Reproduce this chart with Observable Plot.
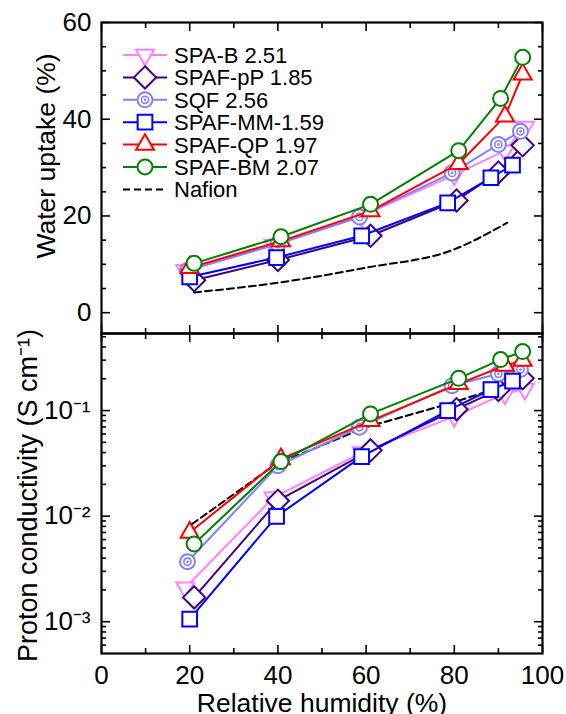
<!DOCTYPE html>
<html><head><meta charset="utf-8">
<script src="https://cdn.jsdelivr.net/npm/d3@7"></script>
<script src="https://cdn.jsdelivr.net/npm/@observablehq/plot@0.6"></script>
<style>
body{margin:0;background:#fff;}
#fig{position:relative;width:566px;height:714px;overflow:hidden;background:#fff;font-family:"Liberation Sans",Arial,sans-serif;}
#top,#bottom,#legend{position:absolute;left:0;}
#top{top:0;}
#bottom{top:333px;}
#legend{top:0;pointer-events:none;}
svg{overflow:visible;}
</style></head>
<body><div id="fig"><div id="bottom"></div><div id="top"></div><div id="legend"></div></div>
<script>
// ---------- data ----------
const seriesNames   = ["SPA-B 2.51", "SPAF-pP 1.85", "SQF 2.56", "SPAF-MM-1.59", "SPAF-QP 1.97", "SPAF-BM 2.07"];
const seriesColors  = ["#ff80ff", "#400080", "#8080ff", "#0000ff", "#ff0000", "#008000"];
const seriesSymbols = ["triangle-down", "diamond", "bullseye", "square", "triangle", "circle"];

// relative humidity (%)
const rhSPAB = [19, 39, 59, 80, 91.5, 96];
const rhPP   = [21, 40, 61, 80.5, 90, 95.5];
const rhSQF  = [19.5, 40, 58.5, 79.5, 90, 95];
const rhMM   = [20, 39.7, 59, 78.5, 88.3, 93.2];
const rhQP   = [20, 40.7, 61, 81, 91.5, 95.5];
const rhBM   = [21, 40.7, 61, 81, 90.5, 95.5];

// water uptake (%)
const wuSPAB = [8.8, 14.0, 20.0, 28.5, 33.5, 38.4];
const wuPP   = [6.7, 10.9, 15.9, 23.2, 29.0, 34.6];
const wuSQF  = [8.7, 14.2, 19.8, 28.9, 34.8, 37.5];
const wuMM   = [7.4, 11.4, 15.9, 22.7, 27.9, 30.5];
const wuQP   = [9.3, 14.8, 21.0, 30.8, 40.6, 49.3];
const wuBM   = [10.2, 15.7, 22.4, 33.5, 44.3, 52.8];

// proton conductivity (S/cm)
const pcSPAB = [0.0021, 0.015, 0.040, 0.088, 0.145, 0.16];
const pcPP   = [0.0017, 0.014, 0.042, 0.103, 0.157, 0.202];
const pcSQF  = [0.0037, 0.030, 0.0695, 0.172, 0.223, 0.245];
const pcMM   = [0.00106, 0.00996, 0.0366, 0.100, 0.158, 0.190];
const pcQP   = [0.0070, 0.0348, 0.080, 0.179, 0.267, 0.298];
const pcBM   = [0.00545, 0.0329, 0.093, 0.202, 0.304, 0.362];

// Nafion reference (dashed)
const nafionName = "Nafion";
const rhNafionWU = [21, 40, 60, 80, 92];
const wuNafion   = [4.2, 6.2, 9.3, 13.1, 18.6];
const rhNafionPC = [20.5, 39.5, 60, 80, 91.3];
const pcNafion   = [0.0084, 0.031, 0.0695, 0.120, 0.172];

// ticks & labels
const xTicksMajor  = [0, 20, 40, 60, 80, 100];
const xTicksMinor  = [10, 30, 50, 70, 90];
const wuTicksMajor = [0, 20, 40, 60];
const wuTicksMinor = [5, 10, 15, 25, 30, 35, 45, 50, 55];
const pcTicksMajor = [1e-3, 1e-2, 1e-1];
const pcTickLabels = ["10\u207B\u00B3", "10\u207B\u00B2", "10\u207B\u00B9"];
const pcTicksMinor = [6e-4, 7e-4, 8e-4, 9e-4, 2e-3, 3e-3, 4e-3, 5e-3, 6e-3, 7e-3, 8e-3, 9e-3,
                      2e-2, 3e-2, 4e-2, 5e-2, 6e-2, 7e-2, 8e-2, 9e-2, 2e-1, 3e-1, 4e-1, 5e-1];
const xLabel  = "Relative humidity (%)";
const wuLabel = "Water uptake (%)";
const pcLabel = "Proton conductivity (S cm\u207B\u00B9)";

// ---------- build tables ----------
const rhs = [rhSPAB, rhPP, rhSQF, rhMM, rhQP, rhBM];
const wus = [wuSPAB, wuPP, wuSQF, wuMM, wuQP, wuBM];
const pcs = [pcSPAB, pcPP, pcSQF, pcMM, pcQP, pcBM];
const series = seriesNames.map((name, i) => ({
  name, color: seriesColors[i], symbol: seriesSymbols[i],
  rows: rhs[i].map((x, j) => ({x, wu: wus[i][j], pc: pcs[i][j]}))
}));
const nafionWU = rhNafionWU.map((x, j) => ({x, y: wuNafion[j]}));
const nafionPC = rhNafionPC.map((x, j) => ({x, y: pcNafion[j]}));

const FONT = "Liberation Sans, Arial, Helvetica, sans-serif";
const SIZES = {triangle: 6.7, diamond: 10, square: 8.3, circle: 7.5};
const TICK_FONT = 26, TITLE_FONT = 26.5;

function markerMarks(rows, yKey, s) {
  const c = {x: "x", y: yKey, stroke: s.color, strokeWidth: 2, fill: "white"};
  switch (s.symbol) {
    case "triangle-down": return [Plot.dot(rows, {...c, symbol: "triangle", r: SIZES.triangle, rotate: 180})];
    case "diamond": return [Plot.dot(rows, {...c, symbol: "diamond2", r: SIZES.diamond})];
    case "bullseye": return [
      Plot.dot(rows, {...c, symbol: "circle", r: SIZES.circle}),
      Plot.dot(rows, {...c, symbol: "circle", r: 3.6, strokeWidth: 1.6}),
      Plot.dot(rows, {x: "x", y: yKey, fill: s.color, r: 1.3})
    ];
    case "square": return [Plot.dot(rows, {...c, symbol: "square", r: SIZES.square})];
    case "triangle": return [Plot.dot(rows, {...c, symbol: "triangle", r: SIZES.triangle})];
    default: return [Plot.dot(rows, {...c, symbol: "circle", r: SIZES.circle})];
  }
}

function tickMarks(xMaj, xMin, yMaj, yMin) {
  const blank = () => "";
  const m = [];
  for (const a of ["bottom", "top"]) {
    m.push(Plot.axisX(xMaj, {anchor: a, tickSize: -8, tickFormat: blank, label: null, strokeWidth: 1.6}));
    m.push(Plot.axisX(xMin, {anchor: a, tickSize: -5, tickFormat: blank, label: null, strokeWidth: 1.6}));
  }
  for (const a of ["left", "right"]) {
    m.push(Plot.axisY(yMaj, {anchor: a, tickSize: -9, tickFormat: blank, label: null, strokeWidth: 1.6}));
    m.push(Plot.axisY(yMin, {anchor: a, tickSize: -5, tickFormat: blank, label: null, strokeWidth: 1.6}));
  }
  return m;
}

// ---------- top panel: water uptake ----------
const topMarks = [
  ...tickMarks(xTicksMajor, xTicksMinor, wuTicksMajor, wuTicksMinor),
  Plot.axisY(wuTicksMajor, {anchor: "left", tickSize: 0, tickPadding: 10, fontSize: TICK_FONT, label: null}),
  Plot.text([wuLabel], {text: d => d, frameAnchor: "left", rotate: -90, dx: -65, dy: -22, textAnchor: "middle", lineAnchor: "top", fontSize: TITLE_FONT}),
  Plot.line(nafionWU, {x: "x", y: "y", stroke: "black", strokeWidth: 2, strokeDasharray: "7,4", curve: "monotone-x"})
];
for (const s of series) {
  topMarks.push(Plot.line(s.rows, {x: "x", y: "wu", stroke: s.color, strokeWidth: 2}));
  topMarks.push(...markerMarks(s.rows, "wu", s));
}
topMarks.push(Plot.frame({stroke: "black", strokeWidth: 2.2}));

const topPlot = Plot.plot({
  width: 566, height: 335,
  marginTop: 22, marginBottom: 2, marginLeft: 101, marginRight: 24,
  style: {fontFamily: FONT, color: "#000", background: "transparent", overflow: "visible"},
  x: {domain: [0, 100]},
  y: {domain: [-4.3, 60]},
  marks: topMarks
});
document.getElementById("top").appendChild(topPlot);

// ---------- bottom panel: proton conductivity ----------
const pcFmt = d => pcTickLabels[pcTicksMajor.findIndex(v => Math.abs(Math.log10(v) - Math.log10(d)) < 1e-6)];
const botMarks = [
  ...tickMarks(xTicksMajor, xTicksMinor, pcTicksMajor, pcTicksMinor),
  Plot.axisX(xTicksMajor, {anchor: "bottom", tickSize: 0, tickPadding: 12, fontSize: TICK_FONT, label: null}),
  Plot.axisY(pcTicksMajor, {anchor: "left", tickSize: 0, tickPadding: 11, fontSize: TICK_FONT, label: null, tickFormat: pcFmt}),
  Plot.text([pcLabel], {text: d => d, frameAnchor: "left", rotate: -90, dx: -84, dy: 2, textAnchor: "middle", lineAnchor: "top", fontSize: 27}),
  Plot.text([xLabel], {text: d => d, frameAnchor: "bottom", dy: 50, textAnchor: "middle", lineAnchor: "middle", fontSize: TITLE_FONT}),
  Plot.line(nafionPC, {x: "x", y: "y", stroke: "black", strokeWidth: 2, strokeDasharray: "7,4"})
];
for (const s of series) {
  botMarks.push(Plot.line(s.rows, {x: "x", y: "pc", stroke: s.color, strokeWidth: 2}));
  botMarks.push(...markerMarks(s.rows, "pc", s));
}
botMarks.push(Plot.frame({stroke: "black", strokeWidth: 2.2}));

const botPlot = Plot.plot({
  width: 566, height: 381,
  marginTop: 0, marginBottom: 61, marginLeft: 101, marginRight: 24,
  style: {fontFamily: FONT, color: "#000", background: "transparent", overflow: "visible"},
  x: {domain: [0, 100]},
  y: {type: "log", domain: [5e-4, 0.537]},
  marks: botMarks
});
document.getElementById("bottom").appendChild(botPlot);

// ---------- legend ----------
const legendItems = series.map(s => ({name: s.name, color: s.color, symbol: s.symbol, dash: null}))
  .concat([{name: nafionName, color: "black", symbol: null, dash: "7,4"}]);
const lg = d3.select("#legend").append("svg").attr("width", 566).attr("height", 210)
  .style("font-family", FONT);
const symType = {"triangle-down": d3.symbolTriangle, diamond: d3.symbolDiamond2, bullseye: d3.symbolCircle,
                 square: d3.symbolSquare, triangle: d3.symbolTriangle, circle: d3.symbolCircle};
const symR = {"triangle-down": SIZES.triangle, diamond: SIZES.diamond, bullseye: SIZES.circle,
              square: SIZES.square, triangle: SIZES.triangle, circle: SIZES.circle};
legendItems.forEach((it, i) => {
  const g = lg.append("g").attr("transform", `translate(0,${55 + i * 22.4})`);
  g.append("line").attr("x1", 123).attr("x2", 167).attr("y1", 0).attr("y2", 0)
    .attr("stroke", it.color).attr("stroke-width", 2).attr("stroke-dasharray", it.dash);
  if (it.symbol) {
    const r = symR[it.symbol];
    g.append("path").attr("d", d3.symbol(symType[it.symbol], Math.PI * r * r)())
      .attr("transform", `translate(145,0)${it.symbol === "triangle-down" ? " rotate(180)" : ""}`)
      .attr("fill", "white").attr("stroke", it.color).attr("stroke-width", 2);
    if (it.symbol === "bullseye") {
      g.append("circle").attr("cx", 145).attr("cy", 0).attr("r", 3.6).attr("fill", "white").attr("stroke", it.color).attr("stroke-width", 1.6);
      g.append("circle").attr("cx", 145).attr("cy", 0).attr("r", 1.3).attr("fill", it.color);
    }
  }
  g.append("text").attr("x", 174).attr("y", 0).attr("dy", "0.36em").attr("font-size", 22)
    .attr("fill", "black").text(it.name);
});
</script>
</body></html>
